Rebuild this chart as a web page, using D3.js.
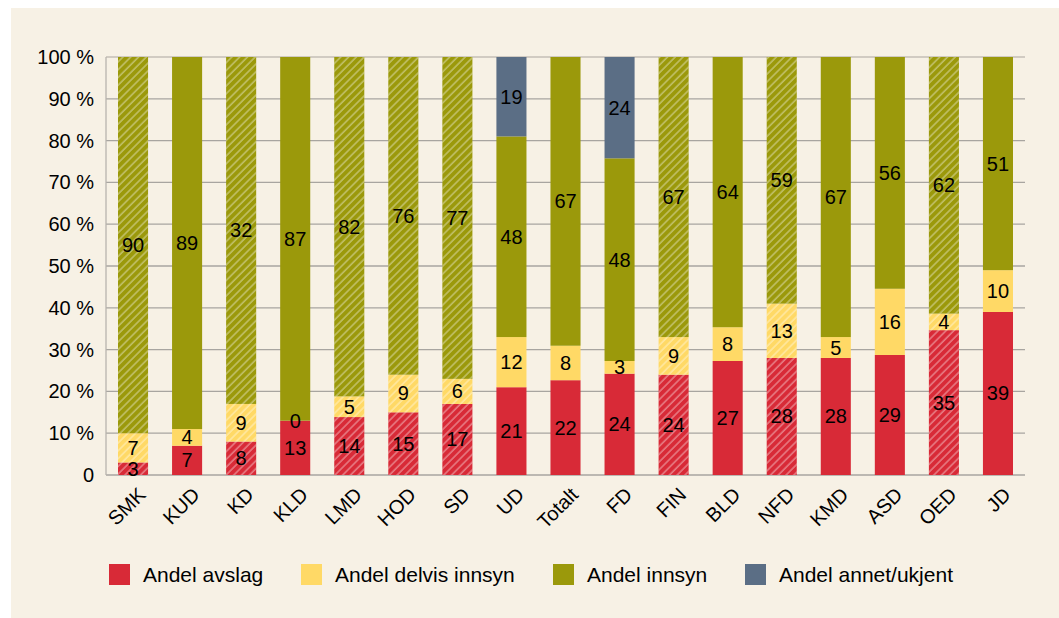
<!DOCTYPE html>
<html>
<head>
<meta charset="utf-8">
<script src="https://cdn.jsdelivr.net/npm/d3@7/dist/d3.min.js"></script>
<style>
  html, body { margin: 0; padding: 0; background: #fff; }
  text { font-family: "Liberation Sans", Arial, sans-serif; fill: #000; }
</style>
</head>
<body>
<div class="container"></div>
<script>
const WIDTH = 1059, HEIGHT = 618;

const categories = ["SMK","KUD","KD","KLD","LMD","HOD","SD","UD","Totalt","FD","FIN","BLD","NFD","KMD","ASD","OED","JD"];
const hatched = ["SMK","KD","LMD","HOD","SD","FIN","NFD","OED"];
const avslag = [3, 7, 8, 13, 14, 15, 17, 21, 22, 24, 24, 27, 28, 28, 29, 35, 39];
const delvis = [7, 4, 9, 0, 5, 9, 6, 12, 8, 3, 9, 8, 13, 5, 16, 4, 10];
const innsyn = [90, 89, 83, 87, 82, 76, 77, 48, 67, 48, 67, 64, 59, 67, 56, 62, 51];
const annet  = [0, 0, 0, 0, 0, 0, 0, 19, 0, 24, 0, 0, 0, 0, 0, 0, 0];
// the original shows "32" on the KD innsyn segment although it fills to 100 %
const labelOverride = {"KD|innsyn": "32"};
const yTicks = [0, 10, 20, 30, 40, 50, 60, 70, 80, 90, 100];

const seriesKeys = ["avslag", "delvis", "innsyn", "annet"];
const seriesNames = ["Andel avslag", "Andel delvis innsyn", "Andel innsyn", "Andel annet/ukjent"];
const colors = ["#d82a37", "#ffd966", "#9b990b", "#5b6e85"];

const rows = categories.map((c, i) => ({
  cat: c, avslag: avslag[i], delvis: delvis[i], innsyn: innsyn[i], annet: annet[i]
}));

const margin = {left: 106, right: 34, top: 57, bottom: 143};
const innerW = WIDTH - margin.left - margin.right;
const innerH = HEIGHT - margin.top - margin.bottom;

var svg = d3.select('.container').append('svg')
  .attr("width", WIDTH).attr("height", HEIGHT);

svg.append("rect").attr("x", 11).attr("y", 8)
  .attr("width", WIDTH - 11).attr("height", HEIGHT - 8)
  .attr("fill", "#f7f1e5");

var defs = svg.append("defs");
defs.append("pattern")
  .attr("id", "hatch")
  .attr("patternUnits", "userSpaceOnUse")
  .attr("width", 5.5).attr("height", 5.5)
  .attr("patternTransform", "rotate(45)")
  .append("line")
  .attr("x1", 1).attr("y1", 0).attr("x2", 1).attr("y2", 5.5)
  .attr("stroke", "#fff").attr("stroke-opacity", 0.55).attr("stroke-width", 1.1);

var g = svg.append("g").attr("transform", "translate(" + margin.left + "," + margin.top + ")");

var x = d3.scaleBand().domain(categories).range([0, innerW])
  .paddingInner(0.444).paddingOuter(0.222);
var y = d3.scaleLinear().domain([0, 1]).range([innerH, 0]);

// grid lines
g.selectAll(".grid").data(yTicks).enter().append("line")
  .attr("x1", 0).attr("x2", innerW)
  .attr("y1", d => y(d / 100)).attr("y2", d => y(d / 100))
  .attr("stroke", d => d === 100 ? "#c4beb6" : "#a8a5a0").attr("stroke-width", 1.3);
g.append("line").attr("x1", 0).attr("x2", 0).attr("y1", 0).attr("y2", innerH)
  .attr("stroke", "#b8b4ae").attr("stroke-width", 1.3);

g.selectAll(".ylab").data(yTicks).enter().append("text")
  .attr("x", -12).attr("y", d => y(d / 100))
  .attr("dy", "0.35em").attr("text-anchor", "end")
  .style("font-size", "20px")
  .text(d => d === 0 ? "0" : d + " %");

var stack = d3.stack().keys(seriesKeys).offset(d3.stackOffsetExpand);
var series = stack(rows);

var layers = g.selectAll(".layer").data(series).enter().append("g");

layers.selectAll("rect").data(d => d.map(p => ({p: p, key: d.key}))).enter().append("rect")
  .attr("x", d => x(d.p.data.cat))
  .attr("width", x.bandwidth())
  .attr("y", d => y(d.p[1]))
  .attr("height", d => y(d.p[0]) - y(d.p[1]))
  .attr("fill", d => colors[seriesKeys.indexOf(d.key)]);

layers.selectAll(".hatch").data(d => d.filter(p => hatched.includes(p.data.cat))).enter().append("rect")
  .attr("x", d => x(d.data.cat))
  .attr("width", x.bandwidth())
  .attr("y", d => y(d[1]))
  .attr("height", d => y(d[0]) - y(d[1]))
  .attr("fill", "url(#hatch)");

// value labels, on top of all segments
var labelData = [];
series.forEach(s => s.forEach(p => {
  var v = p.data[s.key];
  if (v > 0 || (s.key === "delvis" && p.data.cat === "KLD")) labelData.push({p: p, key: s.key});
}));
g.append("g").selectAll("text").data(labelData).enter().append("text")
  .attr("x", d => x(d.p.data.cat) + x.bandwidth() / 2)
  .attr("y", d => y((d.p[0] + d.p[1]) / 2))
  .attr("dy", "0.35em")
  .attr("text-anchor", "middle")
  .style("font-size", "20px")
  .text(d => labelOverride[d.p.data.cat + "|" + d.key] || d.p.data[d.key]);

// x labels
g.selectAll(".xlab").data(categories).enter().append("text")
  .attr("transform", d => "translate(" + (x(d) + x.bandwidth() / 2 + 9) + "," + (innerH + 16) + ") rotate(-45)")
  .attr("text-anchor", "end")
  .attr("dy", "0.35em")
  .style("font-size", "20px")
  .text(d => d);

// legend
var legendX = [109, 301, 553, 745];
var legend = svg.selectAll(".leg").data(seriesNames).enter().append("g")
  .attr("transform", (d, i) => "translate(" + legendX[i] + ",564)");
legend.append("rect").attr("width", 21).attr("height", 21)
  .attr("fill", (d, i) => colors[i]);
legend.append("text").attr("x", 34).attr("y", 11).attr("dy", "0.35em")
  .style("font-size", "21px")
  .text(d => d);
</script>
</body>
</html>
